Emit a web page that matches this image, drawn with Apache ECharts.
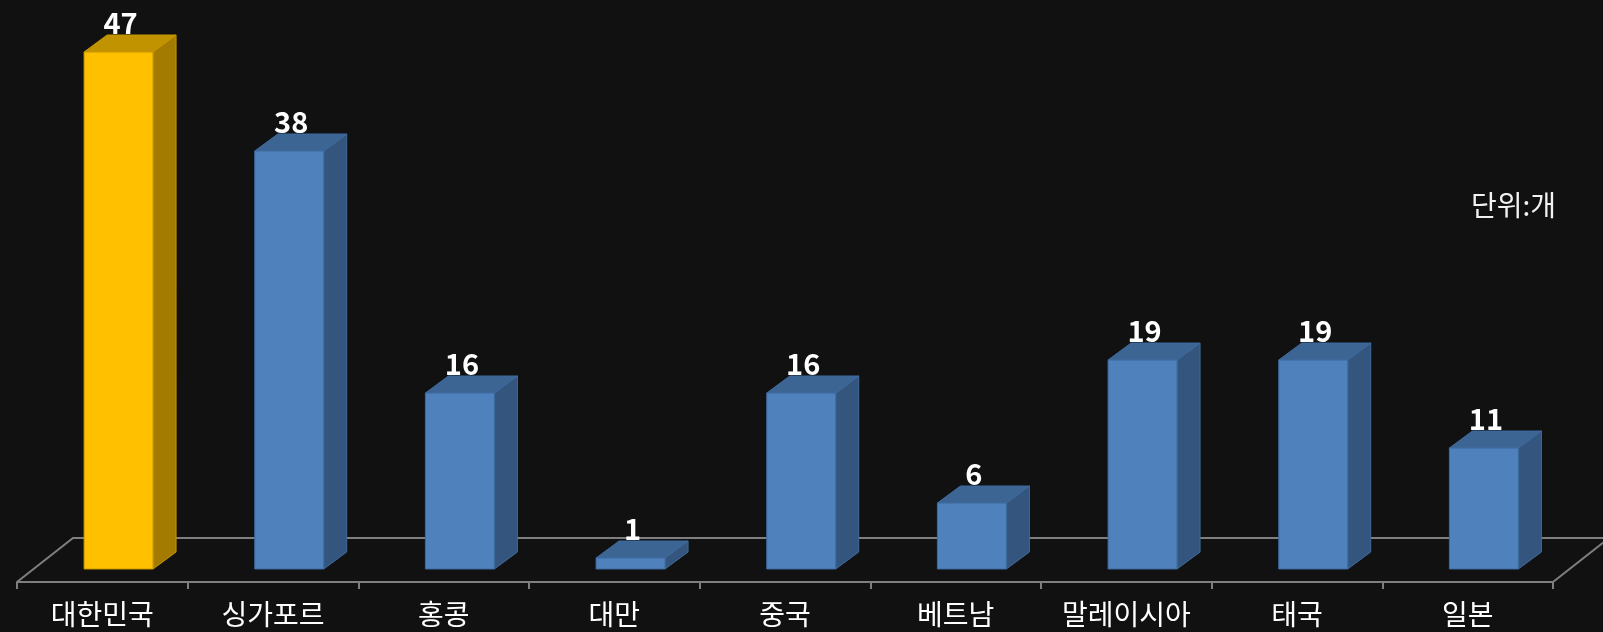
<!DOCTYPE html>
<html>
<head>
<meta charset="utf-8">
<style>
  html, body { margin: 0; padding: 0; background: #111111; }
  #chart { width: 1603px; height: 632px; }
</style>
<script src="https://cdn.jsdelivr.net/npm/echarts@6/dist/echarts.min.js"></script>
</head>
<body>
<div id="chart"></div>
<script>
// 데이터
const categories = ['대한민국', '싱가포르', '홍콩', '대만', '중국', '베트남', '말레이시아', '태국', '일본'];
const values = [47, 38, 16, 1, 16, 6, 19, 19, 11];
const highlighted = ['대한민국'];
const unitText = '단위:개';

const FONT = '"Noto Sans CJK KR", "Noto Sans", sans-serif';

// 막대 색상 (앞면, 윗면, 옆면)
const blue = { front: '#4F81BD', top: '#3D6594', side: '#34557E', edge: '#3F6B9E' };
const gold = { front: '#FFC000', top: '#C29300', side: '#A37B00', edge: '#C79600' };

// 3D 바닥 깊이
const FLOOR_DX = 56, FLOOR_DY = 44;

function renderFloor(params, api) {
  const cs = params.coordSys;
  const xl = cs.x, xr = cs.x + cs.width, yb = cs.y + cs.height;
  const style = { stroke: '#7F7F7F', lineWidth: 2, fill: null };
  return {
    type: 'group',
    children: [
      { type: 'polyline', shape: { points: [[xl, yb], [xl + FLOOR_DX, yb - FLOOR_DY], [xr + FLOOR_DX + 10, yb - FLOOR_DY]] }, style: style },
      { type: 'line', shape: { x1: xr, y1: yb, x2: xr + FLOOR_DX, y2: yb - FLOOR_DY }, style: style }
    ]
  };
}

function renderBar(params, api) {
  const i = api.value(0);
  const v = api.value(1);
  const base = api.coord([i, 0]);
  const top = api.coord([i, v]);
  const band = api.size([1, 0])[0];

  const w = band * 0.404;
  const dx = band * 0.135, dy = 17;
  const fl = base[0] - band * 0.107;
  const fr = fl + w;
  const yb = base[1] - 13;
  const yt = top[1] - 13;
  const c = highlighted.indexOf(categories[i]) >= 0 ? gold : blue;

  return {
    type: 'group',
    children: [
      { type: 'polygon', shape: { points: [[fr, yt], [fr + dx, yt - dy], [fr + dx, yb - dy], [fr, yb]] },
        style: { fill: c.side, stroke: c.edge, lineWidth: 1 } },
      { type: 'polygon', shape: { points: [[fl, yt], [fr, yt], [fr + dx, yt - dy], [fl + dx, yt - dy]] },
        style: { fill: c.top, stroke: c.edge, lineWidth: 1 } },
      { type: 'rect', shape: { x: fl, y: yt, width: w, height: yb - yt },
        style: { fill: c.front, stroke: c.edge, lineWidth: 1 } },
      { type: 'text',
        style: { text: String(v), x: fl + w / 2 + 2, y: yt - dy + 2, fill: '#FFFFFF',
                 font: 'bold 29px ' + FONT, align: 'center', verticalAlign: 'bottom' } }
    ]
  };
}

let myChart = echarts.init(document.getElementById('chart'));

myChart.setOption({
  backgroundColor: '#111111',
  animation: false,
  grid: { left: 17, right: 50, top: 32, bottom: 50 },
  xAxis: {
    type: 'category',
    data: categories,
    boundaryGap: true,
    axisLine: { lineStyle: { color: '#7F7F7F', width: 2 } },
    axisTick: { show: true, length: 7, lineStyle: { color: '#7F7F7F', width: 2 } },
    axisLabel: { color: '#FFFFFF', fontSize: 28, fontFamily: FONT, margin: 18, interval: 0 }
  },
  yAxis: { type: 'value', min: 0, max: 50, show: false },
  graphic: [
    { type: 'text', left: 1471, top: 191,
      style: { text: unitText, fill: '#F2F2F2', font: '28px ' + FONT } }
  ],
  series: [
    { type: 'custom', z: 1, silent: true, renderItem: renderFloor, data: [[0, 0]] },
    { type: 'custom', z: 2, renderItem: renderBar,
      data: values.map(function (v, i) { return [i, v]; }) }
  ]
});
</script>
</body>
</html>
